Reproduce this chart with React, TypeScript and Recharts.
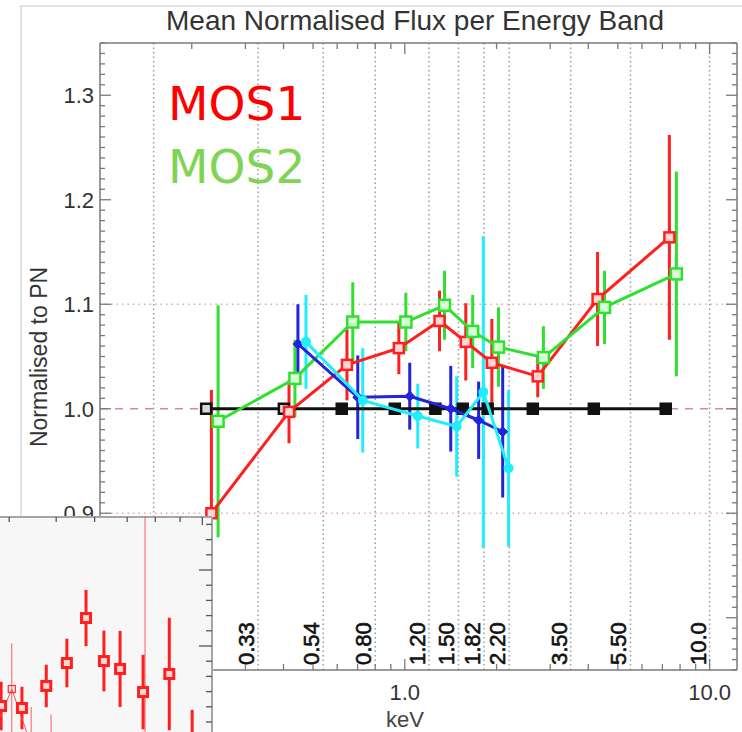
import React from 'react';
import { ComposedChart, ScatterChart, Scatter, XAxis, YAxis, ErrorBar, ReferenceLine } from 'recharts';

const FONT = '"Liberation Sans", Arial, Helvetica, sans-serif';

// ---- main chart data (energy in keV, flux normalised to PN) ----
const pnEnergy = [0.223, 0.401, 0.621, 0.927, 1.26, 1.55, 1.87, 2.63, 4.17, 7.18];
const pnFlux = [1.0, 1.0, 1.0, 1.0, 1.0, 1.0, 1.0, 1.0, 1.0, 1.0];

const mos1Energy = [0.232, 0.417, 0.646, 0.956, 1.3, 1.585, 1.93, 2.73, 4.29, 7.38];
const mos1Flux = [0.9, 0.997, 1.042, 1.058, 1.084, 1.064, 1.044, 1.031, 1.105, 1.164];
const mos1Err = [0.118, 0.03, 0.034, 0.025, 0.029, 0.037, 0.042, 0.02, 0.045, 0.098];

const mos2Energy = [0.244, 0.436, 0.675, 1.008, 1.35, 1.67, 2.03, 2.85, 4.52, 7.78];
const mos2Flux = [0.988, 1.029, 1.083, 1.083, 1.099, 1.074, 1.059, 1.049, 1.097, 1.129];
const mos2Err = [0.111, 0.037, 0.038, 0.028, 0.033, 0.035, 0.038, 0.03, 0.035, 0.098];

const blueEnergy = [0.446, 0.701, 1.038, 1.415, 1.747, 2.095];
const blueFlux = [1.062, 1.011, 1.012, 1.0, 0.989, 0.978];
const blueErr = [0.038, 0.04, 0.032, 0.041, 0.037, 0.063];

const cyanEnergy = [0.474, 0.728, 1.103, 1.48, 1.81, 2.19];
const cyanFlux = [1.064, 1.008, 0.993, 0.983, 1.016, 0.943];
const cyanErr = [0.045, 0.05, 0.031, 0.048, 0.149, 0.075];

const bandEdges = [0.15, 0.33, 0.54, 0.8, 1.2, 1.5, 1.82, 2.2, 3.5, 5.5, 10.0];
const bandLabels = ['0.15', '0.33', '0.54', '0.80', '1.20', '1.50', '1.82', '2.20', '3.50', '5.50', '10.0'];

const xTicks = [0.2, 0.3, 0.4, 0.5, 0.6, 0.7, 0.8, 0.9, 1, 2, 3, 4, 5, 6, 7, 8, 9, 10];
const xMajor = [1, 10];
const xMajorLabels = ['1.0', '10.0'];
const yMajor = [0.8, 0.9, 1.0, 1.1, 1.2, 1.3];
const yMajorLabels = ['0.8', '0.9', '1.0', '1.1', '1.2', '1.3'];
const yTicks = Array.from({ length: 61 }, (_, i) => (75 + i) / 100);

// ---- inset (fragment of another panel) ----
const insetEnergy = [3.85, 4.25, 4.77, 5.26, 5.76, 6.27, 6.77, 7.55, 8.55, 9.53];
const insetRatio = [0.605, 0.592, 0.737, 0.888, 1.184, 0.901, 0.849, 0.697, 0.816, 0.25];
const insetErr = [0.16, 0.14, 0.14, 0.16, 0.185, 0.2, 0.25, 0.245, 0.37, 0.33];
const insetThinEnergy = [3.72, 4.05, 4.44, 4.88, 7.62];
const insetThinRatio = [0.428, 0.717, 0.349, 0.25, 0.25];
const insetThinErr = [0.05, 0.3, 0.25, 0.3, 1.65];
const insetXTicks = [4, 5, 6, 7, 8, 9, 10];
const insetYTicks = [0.5, 0.6, 0.7, 0.8, 0.9, 1.0, 1.1, 1.2, 1.3, 1.4, 1.5, 1.6, 1.7, 1.8];
const insetYMajor = [1.0, 1.5];

const RED = '#ff1f1f';
const GREEN = '#30e030';
const BLUE = '#2323dd';
const CYAN = '#22eefa';
const BLACK = '#111111';

const toRows = (e: number[], v: number[], err?: number[]) =>
  e.map((x, i) => ({ e: x, v: v[i], err: err ? err[i] : 0 }));

const pn = toRows(pnEnergy, pnFlux);
const mos1 = toRows(mos1Energy, mos1Flux, mos1Err);
const mos2 = toRows(mos2Energy, mos2Flux, mos2Err);
const blue = toRows(blueEnergy, blueFlux, blueErr);
const cyan = toRows(cyanEnergy, cyanFlux, cyanErr);
const inset = toRows(insetEnergy, insetRatio, insetErr);
const insetThin = toRows(insetThinEnergy, insetThinRatio, insetThinErr);

const near = (a: number, b: number) => Math.abs(a - b) < 1e-6;

const square = (stroke: string, fill: string, size: number, sw: number) => (p: any) => {
  if (p.cx == null || p.cy == null) return <g />;
  return (
    <rect x={p.cx - size / 2} y={p.cy - size / 2} width={size} height={size} fill={fill} stroke={stroke} strokeWidth={sw} />
  );
};

const pnShape = (p: any) => {
  if (p.cx == null || p.cy == null) return <g />;
  const hollow = p.index != null ? p.index < 2 : p.payload && p.payload.e < 0.45;
  const s = 10;
  return (
    <rect x={p.cx - s / 2} y={p.cy - s / 2} width={s} height={s} fill={hollow ? '#d8d8d8' : BLACK} stroke={BLACK} strokeWidth={2.5} />
  );
};

const diamond = (color: string, r: number) => (p: any) => {
  if (p.cx == null || p.cy == null) return <g />;
  const { cx, cy } = p;
  return <polygon points={`${cx},${cy - r} ${cx + r},${cy} ${cx},${cy + r} ${cx - r},${cy}`} fill={color} stroke={color} strokeWidth={1} />;
};

const dot = (color: string, r: number) => (p: any) => {
  if (p.cx == null || p.cy == null) return <g />;
  return <circle cx={p.cx} cy={p.cy} r={r} fill={color} />;
};

const AXIS = '#7a7a7a';

const BottomTick = (p: any) => {
  const v = p.payload.value;
  const mi = xMajor.findIndex((m) => near(m, v));
  return (
    <g>
      <line x1={p.x} x2={p.x} y1={p.y} y2={p.y - (mi >= 0 ? 11 : 6)} stroke={AXIS} strokeWidth={1.3} />
      {mi >= 0 && (
        <text x={p.x} y={p.y + 30} textAnchor="middle" fontSize={22} fill="#333" fontFamily={FONT}>
          {xMajorLabels[mi]}
        </text>
      )}
    </g>
  );
};

const TopTick = (p: any) => {
  const v = p.payload.value;
  const major = xMajor.some((m) => near(m, v));
  return <line x1={p.x} x2={p.x} y1={p.y} y2={p.y + (major ? 11 : 6)} stroke={AXIS} strokeWidth={1.3} />;
};

const LeftTick = (p: any) => {
  const v = p.payload.value;
  const mi = yMajor.findIndex((m) => near(m, v));
  return (
    <g>
      <line x1={p.x} x2={p.x + (mi >= 0 ? 11 : 5)} y1={p.y} y2={p.y} stroke={AXIS} strokeWidth={1.3} />
      {mi >= 0 && (
        <text x={p.x - 6} y={p.y + 8} textAnchor="end" fontSize={22} fill="#333" fontFamily={FONT}>
          {yMajorLabels[mi]}
        </text>
      )}
    </g>
  );
};

const RightTick = (p: any) => {
  const v = p.payload.value;
  const major = yMajor.some((m) => near(m, v));
  return <line x1={p.x} x2={p.x - (major ? 11 : 5)} y1={p.y} y2={p.y} stroke={AXIS} strokeWidth={1.3} />;
};

const InsetTopTick = (p: any) => {
  const major = near(p.payload.value, 10);
  return <line x1={p.x} x2={p.x} y1={p.y} y2={p.y + (major ? 8 : 5)} stroke="#555" strokeWidth={1.3} />;
};

const InsetRightTick = (p: any) => {
  const major = insetYMajor.some((m) => near(m, p.payload.value));
  return <line x1={p.x} x2={p.x - (major ? 13 : 6)} y1={p.y} y2={p.y} stroke="#555" strokeWidth={1.3} />;
};

const bandLabel = (text: string) => (props: any) => {
  const vb = props.viewBox || {};
  if (vb.x == null) return <g />;
  const x = vb.x - 4;
  const y = vb.y + vb.height - 5;
  return (
    <text x={x} y={y} transform={`rotate(-90 ${x} ${y})`} fontSize={22} fill="#111" stroke="#111" strokeWidth={0.6} fontFamily={FONT}>
      {text}
    </text>
  );
};

export default function App() {
  return (
    <div style={{ position: 'absolute', left: 0, top: 0, width: 742, height: 732, background: '#fff', overflow: 'hidden' }}>
      <div style={{ position: 'absolute', left: 20, top: 5, width: 722, height: 727, borderLeft: '2px solid #e2e2e2', borderTop: '2px solid #e2e2e2', boxSizing: 'border-box' }} />
      <div style={{ position: 'absolute', left: 0, top: 0 }}>
        <ComposedChart width={742} height={732} margin={{ top: 42, right: 4, bottom: 0, left: 20 }}>
          <XAxis
            xAxisId={0}
            type="number"
            dataKey="e"
            scale="log"
            domain={[0.1, 12.3]}
            allowDataOverflow
            ticks={xTicks}
            interval={0}
            height={62}
            tickSize={0}
            tickMargin={0}
            tickLine={false}
            tick={BottomTick}
            axisLine={{ stroke: AXIS, strokeWidth: 1.5 }}
          />
          <XAxis
            xAxisId="top"
            orientation="top"
            type="number"
            dataKey="e"
            scale="log"
            domain={[0.1, 12.3]}
            allowDataOverflow
            ticks={xTicks}
            interval={0}
            height={1}
            tickSize={0}
            tickMargin={0}
            tickLine={false}
            tick={TopTick}
            axisLine={{ stroke: AXIS, strokeWidth: 1.5 }}
          />
          <YAxis
            yAxisId={0}
            type="number"
            dataKey="v"
            domain={[0.75, 1.35]}
            allowDataOverflow
            ticks={yTicks}
            interval={0}
            width={80}
            tickSize={0}
            tickMargin={0}
            tickLine={false}
            tick={LeftTick}
            axisLine={{ stroke: AXIS, strokeWidth: 1.5 }}
          />
          <YAxis
            yAxisId="right"
            orientation="right"
            type="number"
            dataKey="v"
            domain={[0.75, 1.35]}
            allowDataOverflow
            ticks={yTicks}
            interval={0}
            width={1}
            tickSize={0}
            tickMargin={0}
            tickLine={false}
            tick={RightTick}
            axisLine={{ stroke: AXIS, strokeWidth: 1.5 }}
          />
          {bandEdges.map((b, i) => (
            <ReferenceLine
              key={'g' + i}
              x={b}
              xAxisId={0}
              yAxisId={0}
              stroke="#9c9c9c"
              strokeWidth={1.5}
              strokeDasharray="1.5 3"
              label={bandLabel(bandLabels[i])}
            />
          ))}
          <ReferenceLine y={1.1} xAxisId={0} yAxisId={0} stroke="#e6a8a8" strokeWidth={1.5} strokeDasharray="1.5 4" />
          <ReferenceLine y={0.9} xAxisId={0} yAxisId={0} stroke="#e6a8a8" strokeWidth={1.5} strokeDasharray="1.5 4" />
          <ReferenceLine y={1.0} xAxisId={0} yAxisId={0} stroke="#d98c8c" strokeWidth={1.5} strokeDasharray="8 7" />

          <Scatter data={pn} xAxisId={0} yAxisId={0} isAnimationActive={false} line={{ stroke: BLACK, strokeWidth: 3 }} lineType="joint" shape={pnShape} />
          <Scatter data={mos1} xAxisId={0} yAxisId={0} isAnimationActive={false} line={{ stroke: RED, strokeWidth: 3 }} lineType="joint" shape={square(RED, '#ffd6d6', 10, 2.5)}>
            <ErrorBar dataKey="err" direction="y" width={0} stroke={RED} strokeWidth={3} isAnimationActive={false} />
          </Scatter>
          <Scatter data={mos2} xAxisId={0} yAxisId={0} isAnimationActive={false} line={{ stroke: GREEN, strokeWidth: 3 }} lineType="joint" shape={square(GREEN, '#d6ffd6', 11, 2.5)}>
            <ErrorBar dataKey="err" direction="y" width={0} stroke={GREEN} strokeWidth={3} isAnimationActive={false} />
          </Scatter>
          <Scatter data={blue} xAxisId={0} yAxisId={0} isAnimationActive={false} line={{ stroke: BLUE, strokeWidth: 3 }} lineType="joint" shape={diamond(BLUE, 5)}>
            <ErrorBar dataKey="err" direction="y" width={0} stroke={BLUE} strokeWidth={3} isAnimationActive={false} />
          </Scatter>
          <Scatter data={cyan} xAxisId={0} yAxisId={0} isAnimationActive={false} line={{ stroke: CYAN, strokeWidth: 3 }} lineType="joint" shape={dot(CYAN, 5)}>
            <ErrorBar dataKey="err" direction="y" width={0} stroke={CYAN} strokeWidth={3} isAnimationActive={false} />
          </Scatter>
        </ComposedChart>
      </div>

      <svg width={742} height={732} style={{ position: 'absolute', left: 0, top: 0, pointerEvents: 'none' }}>
        <text x={415} y={30} textAnchor="middle" fontSize={28} fill="#333" fontFamily={FONT}>
          Mean Normalised Flux per Energy Band
        </text>
        <text x={47} y={357} textAnchor="middle" fontSize={23} fill="#333" fontFamily={FONT} transform="rotate(-90 47 357)">
          Normalised to PN
        </text>
        <text x={405} y={727} textAnchor="middle" fontSize={22} fill="#444" fontFamily={FONT}>
          keV
        </text>
        <text x={168} y={120} fontSize={47} fill="#ff0000" fontFamily='"DejaVu Sans", sans-serif'>
          MOS1
        </text>
        <text x={168} y={183} fontSize={47} fill="#80d455" fontFamily='"DejaVu Sans", sans-serif'>
          MOS2
        </text>
      </svg>

      <div style={{ position: 'absolute', left: 0, top: 516, width: 213, height: 216, overflow: 'hidden', background: '#f7f7f7' }}>
        <ScatterChart width={214} height={216} margin={{ top: 0, right: 1, bottom: 0, left: 0 }}>
          <XAxis
            xAxisId={0}
            orientation="top"
            type="number"
            dataKey="e"
            scale="log"
            domain={[3.83, 10.47]}
            allowDataOverflow
            ticks={insetXTicks}
            interval={0}
            height={1}
            tickSize={0}
            tickMargin={0}
            tickLine={false}
            tick={InsetTopTick}
            axisLine={{ stroke: '#8a8a8a', strokeWidth: 1.5 }}
          />
          <YAxis
            yAxisId={0}
            orientation="right"
            type="number"
            dataKey="v"
            domain={[0.4342, 1.8487]}
            allowDataOverflow
            ticks={insetYTicks}
            interval={0}
            width={1}
            tickSize={0}
            tickMargin={0}
            tickLine={false}
            tick={InsetRightTick}
            axisLine={{ stroke: '#8a8a8a', strokeWidth: 1.5 }}
          />
          <Scatter data={insetThin} xAxisId={0} yAxisId={0} isAnimationActive={false} line={{ stroke: '#ff4d4d', strokeWidth: 1 }} lineType="joint" shape={square('#ff2a2a', 'none', 7, 1.2)}>
            <ErrorBar dataKey="err" direction="y" width={0} stroke="#ff5c5c" strokeWidth={1} isAnimationActive={false} />
          </Scatter>
          <Scatter data={inset} xAxisId={0} yAxisId={0} isAnimationActive={false} shape={square(RED, '#ffd6d6', 9, 3)}>
            <ErrorBar dataKey="err" direction="y" width={0} stroke={RED} strokeWidth={3} isAnimationActive={false} />
          </Scatter>
        </ScatterChart>
      </div>
    </div>
  );
}
